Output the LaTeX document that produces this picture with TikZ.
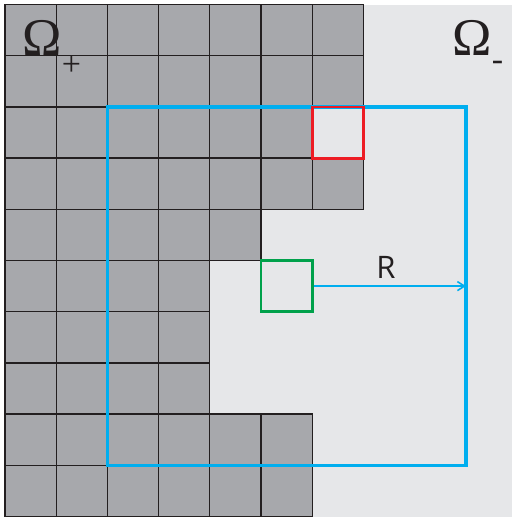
\documentclass[tikz,border=0pt]{standalone}
\usepackage{fontspec}
\setmainfont{Liberation Serif}
\newfontfamily\rfont{Open Sans}
\usetikzlibrary{arrows.meta}
\definecolor{cellgray}{RGB}{167,168,172}
\definecolor{bglight}{RGB}{230,231,233}
\definecolor{gridline}{RGB}{35,31,32}
\definecolor{cyanblue}{RGB}{0,174,239}
\definecolor{redbox}{RGB}{237,28,36}
\definecolor{greenbox}{RGB}{0,161,75}
\tikzset{
  cell/.style={fill=cellgray,draw=gridline,line width=1.3pt},
  frame/.style={draw=cyanblue,line width=3.4pt,minimum size=358.4pt,inner sep=0pt},
  marker/.style={line width=2.8pt,minimum size=51.2pt,inner sep=0pt},
  omega/.style={font=\fontsize{53}{53}\selectfont,inner sep=0pt,anchor=base,text=gridline},
  subs/.style={font=\fontsize{34}{34}\selectfont,inner sep=0pt,text=gridline},
}
\begin{document}
\begin{tikzpicture}[x=1pt,y=-1pt]
\useasboundingbox (0,0) rectangle (512,517);
\fill[bglight] (5,4.5) rectangle (512,517);
% gray cells: row j has n gray cells
\foreach \j/\n in {0/7,1/7,2/6,3/7,4/5,5/4,6/4,7/4,8/6,9/6}{
  \foreach \i in {1,...,\n}{
    \draw[cell] ({5+51.2*(\i-1)},{4.5+51.2*\j}) rectangle ++(51.2,51.2);
  }
}
\node[frame] (box) at (286.6,286.1) {};
\node[marker,draw=redbox] (red) at (337.8,132.5) {};
\node[marker,draw=greenbox] (src) at (286.6,286.1) {};
\draw[cyanblue,line width=2.2pt,-{Straight Barb[length=7pt,width=9pt,line width=1.6pt]},shorten >=1.6pt]
  (src.east) -- (src.east -| box.east);
\node[font=\rfont\fontsize{31}{31}\selectfont,text=gridline,inner sep=0pt] (rlab) at (386,267) {R};
\node[omega] (op) at (42.5,55) {Ω};
\node[subs] (plus) at (71.5,65.5) {+};
\node[omega] (om) at (472.5,55) {Ω};
\node[subs] (minus) at (497.5,66) {-};
\end{tikzpicture}
\end{document}
